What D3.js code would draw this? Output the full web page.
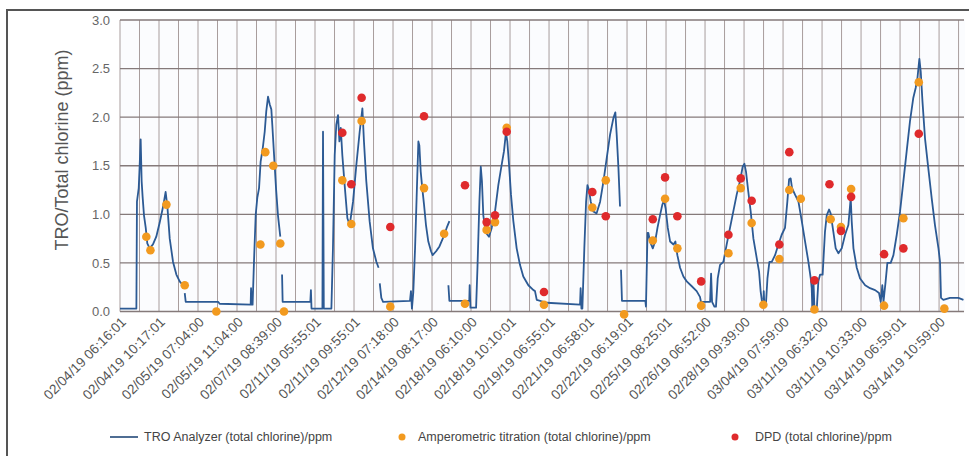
<!DOCTYPE html>
<html>
<head>
<meta charset="utf-8">
<script src="https://cdn.jsdelivr.net/npm/d3@7"></script>
<style>
  body { margin: 0; background: #fff; }
  svg { display: block; font-family: "Liberation Sans", Arial, sans-serif; }
</style>
</head>
<body>
<svg id="chart" width="969" height="456"></svg>
<script>
// tick labels sit on every second grid position of the sample axis
const tickLabels = [
  "02/04/19 06:16:01", "02/04/19 10:17:01", "02/05/19 07:04:00", "02/05/19 11:04:00",
  "02/07/19 08:39:00", "02/11/19 05:55:01", "02/11/19 09:55:01", "02/12/19 07:18:00",
  "02/14/19 08:17:00", "02/18/19 06:10:00", "02/18/19 10:10:01", "02/19/19 06:55:01",
  "02/21/19 06:58:01", "02/22/19 06:19:01", "02/25/19 08:25:01", "02/26/19 06:52:00",
  "02/28/19 09:39:00", "03/04/19 07:59:00", "03/11/19 06:32:00", "03/11/19 10:33:00",
  "03/14/19 06:59:01", "03/14/19 10:59:00"
];
const yTicks = [0, 0.5, 1, 1.5, 2, 2.5, 3];

// TRO analyzer trace, [sample position, ppm], split where the record breaks
const troAnalyzer = [
  [[0,0.03],[0.84,0.03],[0.87,1.13],[0.96,1.27],[1.01,1.51],[1.06,1.77],[1.11,1.34],[1.16,1.18],[1.23,0.99],[1.32,0.86],[1.40,0.70],[1.52,0.65],[1.69,0.69],[1.86,0.77],[2.03,0.91],[2.21,1.08],[2.34,1.23],[2.43,1.08],[2.55,0.75],[2.72,0.51],[2.89,0.38],[3.06,0.31],[3.23,0.27]],
  [[3.32,0.19],[3.37,0.10],[5.03,0.10],[5.11,0.08],[6.70,0.07],[6.72,0.24],[6.76,0.07],[6.80,0.07],[6.87,0.51],[6.96,1.0],[7.04,1.17],[7.13,1.27],[7.21,1.54],[7.32,1.68],[7.42,1.85],[7.50,2.06],[7.59,2.21],[7.68,2.13],[7.76,2.08],[7.81,1.92],[7.90,1.61],[8.00,1.27],[8.10,0.99],[8.22,0.77]],
  [[8.31,0.38],[8.34,0.10],[9.76,0.10],[9.79,0.22],[9.82,0.03],[10.38,0.03],[10.41,1.85],[10.45,0.03],[10.84,0.03],[10.92,0.65],[11.01,1.61],[11.09,1.92],[11.18,2.02],[11.25,1.75],[11.32,1.89],[11.40,1.61],[11.52,1.30],[11.66,0.96],[11.78,0.89],[11.95,1.13],[12.12,1.51],[12.29,1.85],[12.43,2.09],[12.51,1.75],[12.63,1.34],[12.80,0.93],[12.97,0.65],[13.15,0.51],[13.26,0.45]],
  [[13.32,0.29],[13.40,0.14],[13.49,0.10],[14.87,0.11],[14.92,0.21],[14.97,0.03],[15.04,0.20],[15.13,0.65],[15.21,1.17],[15.30,1.75],[15.35,1.71],[15.42,1.44],[15.50,1.27],[15.59,1.10],[15.69,0.89],[15.81,0.72],[15.95,0.62],[16.03,0.58],[16.21,0.62],[16.38,0.67],[16.55,0.75],[16.75,0.86],[16.89,0.93]],
  [[16.84,0.27],[16.89,0.11],[17.91,0.11],[17.93,0.27],[17.97,0.04],[18.26,0.04],[18.33,0.45],[18.43,1.13],[18.50,1.49],[18.56,1.34],[18.63,0.99],[18.72,0.86],[18.80,0.80],[18.92,0.77],[19.06,0.86],[19.23,1.03],[19.40,1.30],[19.57,1.51],[19.69,1.65],[19.79,1.84],[19.86,1.75],[19.95,1.51],[20.05,1.20],[20.17,0.93],[20.34,0.65],[20.51,0.48],[20.68,0.36],[20.94,0.27],[21.20,0.22],[21.28,0.21],[21.37,0.12],[21.88,0.09],[23.59,0.07],[23.62,0.24],[23.66,0.03],[23.71,0.03],[23.81,0.65],[23.90,1.13],[23.97,1.30],[24.05,1.25],[24.14,1.13],[24.27,1.03],[24.44,1.01],[24.62,1.13],[24.79,1.34],[24.96,1.58],[25.13,1.82],[25.30,1.99],[25.40,2.05],[25.47,1.82],[25.56,1.47],[25.64,1.08]],
  [[25.69,0.43],[25.74,0.11],[26.94,0.11],[26.97,0.05],[27.05,0.81],[27.09,0.81],[27.18,0.72],[27.32,0.65],[27.44,0.72],[27.56,0.86],[27.69,0.99],[27.81,1.10],[27.90,1.14],[27.98,1.06],[28.09,0.86],[28.21,0.72],[28.38,0.69],[28.48,0.72],[28.58,0.58],[28.72,0.45],[28.89,0.36],[29.06,0.31],[29.32,0.26],[29.57,0.21],[29.74,0.15],[29.79,0.10],[30.26,0.10],[30.31,0.39],[30.36,0.10],[30.48,0.05],[30.56,0.05],[30.65,0.34],[30.77,0.48],[30.94,0.51],[31.11,0.69],[31.28,0.86],[31.45,1.03],[31.62,1.20],[31.79,1.34],[31.93,1.49],[32.02,1.52],[32.10,1.44],[32.22,1.23],[32.34,1.03],[32.48,0.75],[32.65,0.55],[32.77,0.41],[32.85,0.21],[32.94,0.07],[32.99,0.07],[33.01,0.21],[33.04,0.07],[33.12,0.07],[33.20,0.34],[33.30,0.51],[33.42,0.51],[33.59,0.58],[33.76,0.69],[33.93,0.79],[34.10,0.86],[34.22,1.13],[34.31,1.36],[34.39,1.37],[34.46,1.27],[34.62,1.20],[34.79,1.13],[34.96,0.93],[35.13,0.72],[35.30,0.51],[35.42,0.34],[35.47,0.24],[35.50,0.03],[35.56,0.31],[35.61,0.03],[35.73,0.03],[35.81,0.31],[35.90,0.38],[36.03,0.38],[36.15,0.82],[36.24,0.99],[36.36,1.05],[36.44,1.01],[36.58,0.82],[36.70,0.65],[36.84,0.60],[37.01,0.65],[37.18,0.79],[37.35,0.89],[37.47,1.17],[37.52,0.93],[37.61,0.65],[37.78,0.45],[37.95,0.34],[38.21,0.27],[38.46,0.24],[38.72,0.22],[38.92,0.19],[39.01,0.10],[39.09,0.27],[39.15,0.10],[39.26,0.31],[39.35,0.50],[39.52,0.50],[39.66,0.58],[39.83,0.79],[40.00,1.03],[40.17,1.34],[40.34,1.65],[40.51,1.96],[40.68,2.20],[40.80,2.30],[40.89,2.40],[40.99,2.60],[41.06,2.47],[41.15,2.16],[41.28,1.78],[41.45,1.47],[41.62,1.17],[41.79,0.89],[41.97,0.65],[42.05,0.51],[42.10,0.14],[42.22,0.12],[42.56,0.14],[42.99,0.14],[43.25,0.12]]
];

const amperometric = [
  [1.35,0.77],[1.56,0.63],[2.38,1.10],[3.32,0.27],[4.94,0.0],[7.20,0.69],[7.45,1.64],[7.86,1.50],[8.22,0.70],[8.41,0.0],
  [11.40,1.35],[11.86,0.90],[12.39,1.96],[13.86,0.05],[15.59,1.27],[16.62,0.80],[17.69,0.08],[18.80,0.84],[19.23,0.92],[19.83,1.89],
  [21.74,0.07],[24.22,1.07],[24.91,1.35],[25.85,-0.03],[27.32,0.73],[27.95,1.16],[28.58,0.65],[29.80,0.06],[31.20,0.60],[31.83,1.27],
  [32.39,0.91],[32.99,0.07],[33.81,0.54],[34.32,1.25],[34.91,1.16],[35.61,0.02],[36.44,0.95],[36.97,0.87],[37.49,1.26],[39.18,0.06],
  [40.17,0.96],[40.96,2.36],[42.27,0.03]
];

const dpd = [
  [11.40,1.84],[11.86,1.31],[12.39,2.20],[13.86,0.87],[15.59,2.01],[17.69,1.30],[18.80,0.92],[19.23,0.99],[19.83,1.85],[21.74,0.20],
  [24.22,1.23],[24.91,0.98],[27.32,0.95],[27.95,1.38],[28.58,0.98],[29.80,0.31],[31.20,0.79],[31.83,1.37],[32.39,1.14],[33.81,0.69],
  [34.32,1.64],[35.61,0.32],[36.38,1.31],[36.97,0.83],[37.49,1.18],[39.18,0.59],[40.17,0.65],[40.96,1.83]
];

const svg = d3.select("#chart");
const plotLeft = 120, plotRight = 965, plotTop = 20, plotBottom = 311.5;

const x = d3.scaleLinear().domain([0, 43.33]).range([plotLeft, plotRight]);
const y = d3.scaleLinear().domain([0, 3]).range([plotBottom, plotTop]);

// outer frame (only top and left edges show in the crop)
svg.append("path")
  .attr("d", `M7,456 V10 H969`)
  .attr("fill", "none")
  .attr("stroke", "#555")
  .attr("stroke-width", 2);

svg.append("rect")
  .attr("x", plotLeft).attr("y", plotTop)
  .attr("width", plotRight - plotLeft).attr("height", plotBottom - plotTop)
  .attr("fill", "#fbfcfe");

// vertical grid
svg.append("g").selectAll("line")
  .data(d3.range(0, 44))
  .join("line")
  .attr("x1", (d) => x(d)).attr("x2", (d) => x(d))
  .attr("y1", plotTop).attr("y2", plotBottom)
  .attr("stroke", "#a89d9d")
  .attr("stroke-width", 1);

// horizontal grid
svg.append("g").selectAll("line")
  .data(yTicks)
  .join("line")
  .attr("x1", plotLeft).attr("x2", plotRight - 1)
  .attr("y1", (d) => y(d)).attr("y2", (d) => y(d))
  .attr("stroke", "#857a7a")
  .attr("stroke-width", 1.3);

// y axis labels
const yAxis = svg.append("g")
  .attr("transform", `translate(${plotLeft},0)`)
  .call(d3.axisLeft(y).tickValues(yTicks).tickSize(0).tickPadding(10).tickFormat(d3.format(".1f")));
yAxis.select(".domain").remove();
yAxis.selectAll("text")
  .style("font-size", "13px")
  .style("fill", "#666");

svg.append("text")
  .attr("transform", "translate(62,150) rotate(-90)")
  .attr("text-anchor", "middle")
  .attr("dominant-baseline", "central")
  .style("font-size", "18px")
  .style("fill", "#555")
  .text("TRO/Total chlorine (ppm)");

// x axis labels, rotated
const xAxis = svg.append("g")
  .attr("transform", `translate(0,${plotBottom})`)
  .call(d3.axisBottom(x).tickValues(d3.range(0, 43, 2)).tickSize(0).tickFormat((d) => tickLabels[d / 2]));
xAxis.select(".domain").remove();
xAxis.selectAll("text")
  .attr("y", 0)
  .attr("dy", "0.35em")
  .attr("text-anchor", "end")
  .attr("transform", "translate(3,8) rotate(-45)")
  .style("font-size", "13.6px")
  .style("fill", "#555");

// TRO analyzer line
const line = d3.line()
  .x((d) => x(d[0]))
  .y((d) => y(d[1]));

svg.append("g").selectAll("path")
  .data(troAnalyzer)
  .join("path")
  .attr("d", line)
  .attr("fill", "none")
  .attr("stroke", "#2c5a94")
  .attr("stroke-width", 1.8)
  .attr("stroke-linejoin", "round");

svg.append("g").selectAll("circle")
  .data(amperometric)
  .join("circle")
  .attr("cx", (d) => x(d[0]))
  .attr("cy", (d) => y(d[1]))
  .attr("r", 4.3)
  .attr("fill", "#f29a1f");

svg.append("g").selectAll("circle")
  .data(dpd)
  .join("circle")
  .attr("cx", (d) => x(d[0]))
  .attr("cy", (d) => y(d[1]))
  .attr("r", 4.3)
  .attr("fill", "#df2a2c");

// legend
const legend = svg.append("g").style("font-size", "12.5px").style("fill", "#444");
legend.append("line")
  .attr("x1", 110).attr("x2", 138).attr("y1", 437).attr("y2", 437)
  .attr("stroke", "#4f6d93").attr("stroke-width", 2);
legend.append("text").attr("x", 144).attr("y", 437).attr("dy", "0.35em")
  .text("TRO Analyzer (total chlorine)/ppm");
legend.append("circle").attr("cx", 402).attr("cy", 437).attr("r", 3.5).attr("fill", "#f29a1f");
legend.append("text").attr("x", 418).attr("y", 437).attr("dy", "0.35em")
  .text("Amperometric titration (total chlorine)/ppm");
legend.append("circle").attr("cx", 735).attr("cy", 437).attr("r", 3.5).attr("fill", "#df2a2c");
legend.append("text").attr("x", 755).attr("y", 437).attr("dy", "0.35em")
  .text("DPD (total chlorine)/ppm");
</script>
</body>
</html>
